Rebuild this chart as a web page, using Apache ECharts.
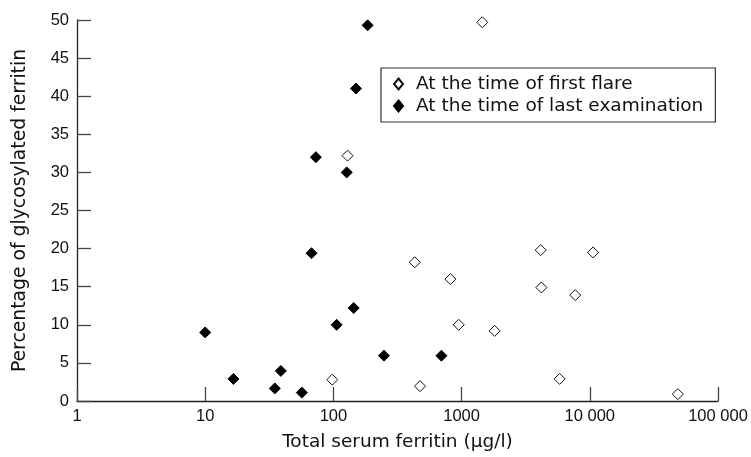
<!DOCTYPE html>
<html>
<head>
<meta charset="utf-8">
<script src="https://cdn.jsdelivr.net/npm/echarts@6/dist/echarts.min.js"></script>
<style>
  html, body { margin: 0; padding: 0; background: #fff; }
  #chart { width: 751px; height: 457px; }
</style>
</head>
<body>
<div id="chart"></div>
<script>
  // ferritin (µg/l) vs % glycosylated ferritin
  const firstFlareX = [1450, 129, 98, 431, 818, 4140, 10600, 4190, 7700, 950, 1810, 474, 5820, 48600]
  const firstFlareY = [49.7, 32.2, 2.8, 18.2, 16.0, 19.8, 19.5, 14.9, 13.9, 10.0, 9.2, 1.95, 2.9, 0.9]
  const lastExamX = [185, 150, 73, 127, 67.5, 106, 144, 10, 16.6, 38.9, 34.9, 56.7, 248, 696]
  const lastExamY = [49.3, 41.0, 32.0, 30.0, 19.4, 10.0, 12.2, 9.0, 2.9, 3.95, 1.65, 1.1, 5.95, 5.95]
  const seriesNames = ['At the time of first flare', 'At the time of last examination']

  const font = 'DejaVu Sans'
  const tickFont = 'Liberation Sans'
  const pairs = (xs, ys) => xs.map((x, i) => [x, ys[i]])

  const chart = echarts.init(document.getElementById('chart'))
  chart.setOption({
    animation: false,
    textStyle: { fontFamily: font },
    grid: { left: 77, right: 33, top: 20, bottom: 53 },
    legend: {
      orient: 'vertical',
      left: 381,
      top: 68,
      data: seriesNames,
      icon: 'diamond',
      itemWidth: 9,
      itemHeight: 11,
      itemGap: 2,
      padding: [6, 12, 6, 12],
      borderColor: '#333',
      borderWidth: 1.2,
      textStyle: { fontFamily: font, fontSize: 18.5, color: '#111', padding: [0, 0, 0, 8], lineHeight: 20 }
    },
    xAxis: {
      type: 'log',
      logBase: 10,
      min: 1,
      max: 100000,
      name: 'Total serum ferritin (µg/l)',
      nameLocation: 'middle',
      nameGap: 32,
      nameTextStyle: { fontFamily: font, fontSize: 18.5, color: '#111' },
      axisLine: { lineStyle: { color: '#222', width: 1.3 } },
      axisTick: { inside: true, length: 14, lineStyle: { color: '#444', width: 1.3 } },
      minorTick: { show: false },
      splitLine: { show: false },
      axisLabel: {
        margin: 7,
        fontSize: 16.5,
        color: '#111',
        fontFamily: tickFont,
        formatter: v => v >= 10000 ? String(v).replace(/(\d)(?=(\d{3})+$)/g, '$1 ') : String(v)
      }
    },
    yAxis: {
      type: 'value',
      min: 0,
      max: 50,
      interval: 5,
      name: 'Percentage of glycosylated ferritin',
      nameLocation: 'middle',
      nameGap: 47,
      nameTextStyle: { fontFamily: font, fontSize: 18.8, color: '#111' },
      axisLine: { show: true, lineStyle: { color: '#222', width: 1.3 } },
      axisTick: { show: true, inside: true, length: 14, lineStyle: { color: '#444', width: 1.3 } },
      splitLine: { show: false },
      axisLabel: { margin: 8, fontSize: 16.5, color: '#111', fontFamily: tickFont }
    },
    series: [
      {
        name: seriesNames[0],
        type: 'scatter',
        symbol: 'diamond',
        symbolSize: 11,
        itemStyle: { color: '#fff', borderColor: '#111', borderWidth: 1, opacity: 1 },
        data: pairs(firstFlareX, firstFlareY)
      },
      {
        name: seriesNames[1],
        type: 'scatter',
        symbol: 'diamond',
        symbolSize: 11,
        itemStyle: { color: '#000', borderColor: '#000', borderWidth: 1, opacity: 1 },
        data: pairs(lastExamX, lastExamY)
      }
    ]
  })
</script>
</body>
</html>
